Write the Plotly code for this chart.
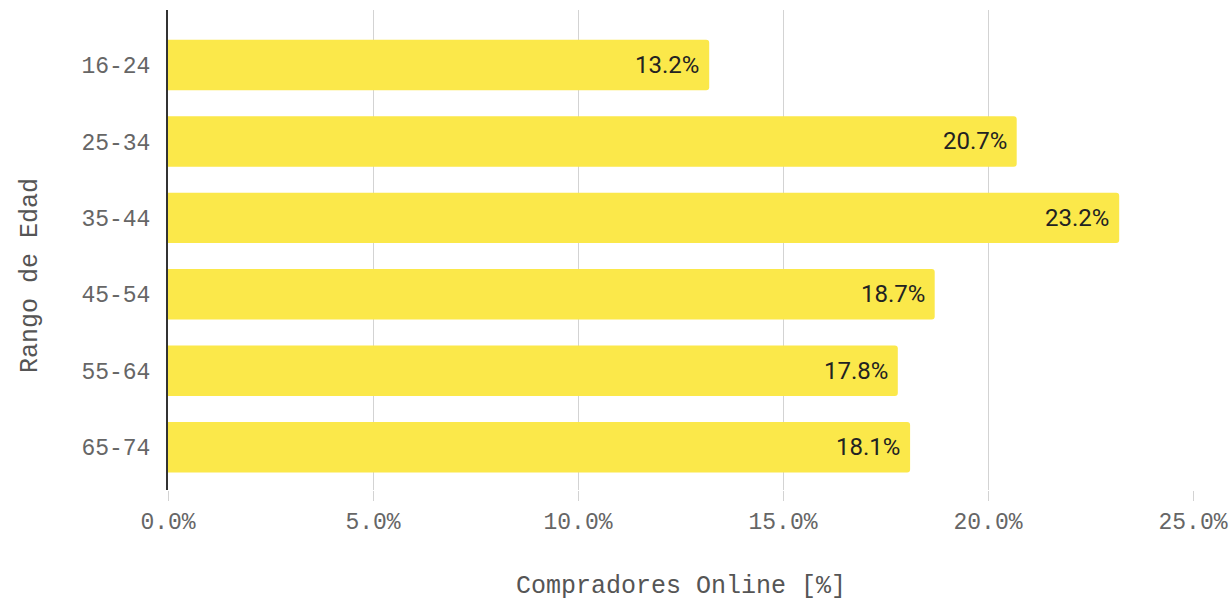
import plotly.graph_objects as go

categories = ["16-24", "25-34", "35-44", "45-54", "55-64", "65-74"]
values = [13.2, 20.7, 23.2, 18.7, 17.8, 18.1]
x_ticks = [0, 5, 10, 15, 20, 25]
x_tick_labels = ["0.0%", "5.0%", "10.0%", "15.0%", "20.0%", "25.0%"]

mono = "Liberation Mono, Courier New, monospace"

fig = go.Figure()
fig.add_trace(go.Bar(
    y=categories,
    x=values,
    orientation="h",
    marker=dict(color="#FBE84A", line=dict(width=0), cornerradius=3),
    hoverinfo="skip",
))

for c, v in zip(categories, values):
    fig.add_annotation(
        x=v, y=c, xref="x", yref="y",
        text=f"{v:.1f}%", showarrow=False,
        xanchor="right", xshift=-8,
        font=dict(family="Roboto, Arial, sans-serif", size=24, color="#222222"),
    )

# axis titles
fig.add_annotation(
    text="Rango de Edad", xref="paper", yref="paper",
    x=-0.1335, y=0.446, xanchor="center", yanchor="middle",
    textangle=-90, showarrow=False,
    font=dict(family=mono, size=25, color="#555555"),
)
fig.add_annotation(
    text="Compradores Online [%]", xref="paper", yref="paper",
    x=0.5, y=0, yshift=-96, xanchor="center", yanchor="middle",
    showarrow=False,
    font=dict(family=mono, size=25, color="#555555"),
)

fig.update_layout(
    width=1232, height=603,
    margin=dict(l=168, r=39, t=10, b=113, pad=0),
    plot_bgcolor="white", paper_bgcolor="white",
    bargap=0.34,
    showlegend=False,
)

fig.update_xaxes(
    range=[0, 25], automargin=False,
    tickvals=x_ticks, ticktext=x_tick_labels,
    showgrid=True, gridcolor="#D3D3D3", gridwidth=1,
    ticks="outside", ticklen=10, tickcolor="#D3D3D3", tickwidth=1,
    tickfont=dict(family=mono, size=23, color="#666666"),
    zeroline=False, showline=False,
)

fig.update_yaxes(
    type="category", automargin=False,
    categoryorder="array", categoryarray=categories,
    range=[5.56, -0.72],
    showgrid=False,
    showline=True, linecolor="#333333", linewidth=2,
    ticks="", ticklabelstandoff=11,
    tickfont=dict(family=mono, size=23, color="#666666"),
)

fig.write_html(
    "out.html",
    config={"displayModeBar": False},
    post_script="document.body.style.margin='0';document.body.style.overflow='hidden';",
)
